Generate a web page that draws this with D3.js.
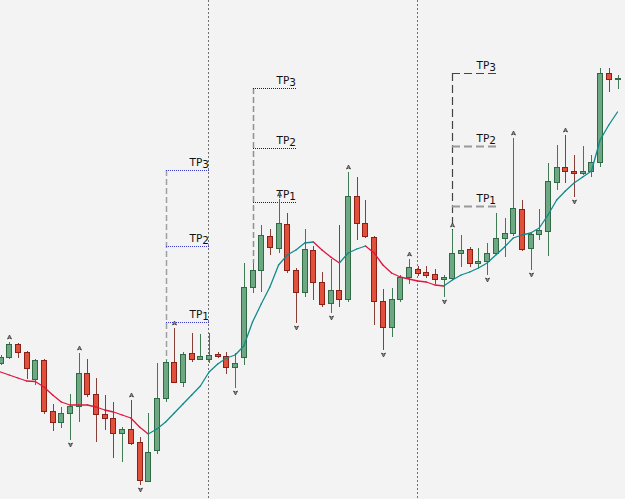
<!DOCTYPE html>
<html>
<head>
<meta charset="utf-8">
<script src="https://cdn.jsdelivr.net/npm/d3@7"></script>
<style>
html, body { margin: 0; padding: 0; background: #f3f3f3; }
svg { display: block; }
</style>
</head>
<body>
<div id="chart"></div>
<script>
// candle prices (price = 500 - pixel row)
var openP  = [137,143,156,148,121,140,89,78,87,94,127,106,86,82,67,71,58,19,50,102,
              138,118,147,141,141,146,144,133,143,213,230,264,252,276,230,208,250,218,197,210,
              201,304,277,263,199,173,201,223,231,228,226,221,222,247,251,237,239,247,262,267,
              291,252,266,269,318,333,329,327,329,338,427,421];
var highP  = [145,158,157,149,141,141,96,93,106,147,141,122,105,98,73,100,63,87,137,140,
              172,148,167,166,167,148,148,147,237,237,275,271,301,287,232,271,254,228,241,275,
              328,323,300,264,211,212,225,241,234,234,231,225,270,265,253,252,257,287,282,362,
              300,268,291,337,355,365,345,354,345,432,432,425];
var lowP   = [135,141,142,121,115,86,69,72,60,78,103,58,70,42,38,55,15,18,46,98,
              117,113,138,140,137,142,126,112,135,207,208,245,247,227,177,203,200,193,187,193,
              198,260,262,175,150,163,198,216,224,222,216,203,220,233,233,232,225,245,243,264,
              249,230,260,244,310,317,303,325,323,333,408,411];
var closeP = [143,156,148,132,140,89,78,87,94,127,106,86,82,67,71,57,20,48,102,138,
              118,146,141,144,145,144,133,137,213,230,265,253,277,230,208,251,218,196,210,201,
              304,277,264,199,173,201,223,233,227,225,221,223,247,250,237,239,247,262,267,292,
              251,266,270,319,333,329,327,329,338,427,421,422];

// moving average, one value per candle
var maP = [128,125,122,119,118.5,113,105,98,95,95,95,93,90,88,85,82,73,66,71,78,
           87,96,105,114,128,136,142,145,154,178,196,213,235,245,250,257,258,250,243,237,
           247,251,254,247,235,227,223,221,219,218,215,214,220,225,228,232,237,245,253,262,
           265,267,272,285,300,309,317,323,329,360,375,388];

// signal arrows
var upArrows   = [1, 9, 15, 20, 32, 40, 47, 52, 59, 65];
var downArrows = [8, 16, 27, 34, 38, 44, 51, 56, 61, 66];

// session separators
var sessionStarts = [24, 48];

// take-profit setups
var tpIndex = [19, 29, 52];
var tp1Level = [178, 298, 294];
var tp2Level = [254.5, 352, 354];
var tp3Level = [330, 412, 427];
var tpNames = ["1", "2", "3"];

var width = 625, height = 499;

var svg = d3.select("#chart")
    .append("svg")
    .attr("width", width)
    .attr("height", height);

svg.append("rect")
    .attr("width", width)
    .attr("height", height)
    .attr("fill", "#f3f3f3");

var x = d3.scaleLinear()
    .domain([0, openP.length - 1])
    .range([0.5, 617.5]);

var y = d3.scaleLinear()
    .domain([0, 500])
    .range([500, 0]);

function px(i) { return Math.round(x(i)); }

var candles = openP.map(function(o, i) {
  return {i: i, o: o, h: highP[i], l: lowP[i], c: closeP[i], up: closeP[i] >= o};
});

// separators
svg.selectAll(".sep")
    .data(sessionStarts)
    .enter()
    .append("line")
    .attr("x1", function(d) { return px(d) - 0.5; })
    .attr("x2", function(d) { return px(d) - 0.5; })
    .attr("y1", 0)
    .attr("y2", height)
    .attr("stroke", "#707070")
    .attr("stroke-width", 1)
    .attr("stroke-dasharray", "2,2");

// take-profit guides
var tpStyle = [
  {vert: "#a0a0a0", vDash: "6,3", vW: 1.5, hor: ["#3a3ac8", "#3a3ac8", "#3a3ac8"], hDash: "1,1", hW: [1, 1, 1]},
  {vert: "#909090", vDash: "6,3", vW: 1.5, hor: ["#222222", "#222222", "#222222"], hDash: "1,1", hW: [1, 1, 1]},
  {vert: "#444444", vDash: "8,4", vW: 1.2, hor: ["#9a9a9a", "#9a9a9a", "#444444"], hDash: "8,4", hW: [2, 2, 1.2]}
];

var tpGroup = svg.append("g");
tpIndex.forEach(function(idx, k) {
  var st = tpStyle[k];
  var x0 = px(idx);
  var x1 = px(idx + 5);
  var levels = [tp1Level[k], tp2Level[k], tp3Level[k]];

  tpGroup.append("line")
      .attr("x1", x0 + 0.5).attr("x2", x0 + 0.5)
      .attr("y1", Math.round(y(tp3Level[k])))
      .attr("y2", Math.round(y(highP[idx])))
      .attr("stroke", st.vert)
      .attr("stroke-width", st.vW)
      .attr("stroke-dasharray", st.vDash);

  levels.forEach(function(lv, j) {
    var ly = Math.round(y(lv)) + 0.5;
    tpGroup.append("line")
        .attr("x1", x0).attr("x2", x1)
        .attr("y1", ly).attr("y2", ly)
        .attr("stroke", st.hor[j])
        .attr("stroke-width", st.hW[j])
        .attr("stroke-dasharray", st.hDash);

    var t = tpGroup.append("text")
        .attr("x", x1)
        .attr("y", ly - 5)
        .attr("text-anchor", "end")
        .attr("font-family", "DejaVu Sans, sans-serif")
        .attr("font-size", "10.5px")
        .attr("fill", "#111");
    t.append("tspan").text("TP");
    t.append("tspan").attr("dy", 2).text(tpNames[j]);
  });
});

// candles
var g = svg.append("g");

g.selectAll(".wick")
    .data(candles)
    .enter()
    .append("line")
    .attr("x1", function(d) { return px(d.i) + 0.5; })
    .attr("x2", function(d) { return px(d.i) + 0.5; })
    .attr("y1", function(d) { return Math.round(y(d.h)); })
    .attr("y2", function(d) { return Math.round(y(d.l)); })
    .attr("stroke", function(d) { return d.up ? "#3f7a55" : "#864038"; })
    .attr("stroke-width", 1);

g.selectAll(".body")
    .data(candles)
    .enter()
    .append("rect")
    .attr("x", function(d) { return px(d.i) - 2.5; })
    .attr("y", function(d) { return Math.round(y(Math.max(d.o, d.c))) + 0.5; })
    .attr("width", 5)
    .attr("height", function(d) { return Math.max(1, Math.round(Math.abs(y(d.o) - y(d.c)))); })
    .attr("fill", function(d) { return d.up ? "#6da883" : "#e0503a"; })
    .attr("stroke", function(d) { return d.up ? "#2f6a45" : "#8c1f16"; })
    .attr("stroke-width", 1);

// moving average, red while falling, teal while rising
for (var i = 1; i < maP.length; i++) {
  svg.append("line")
      .attr("x1", x(i - 1)).attr("y1", y(maP[i - 1]))
      .attr("x2", x(i)).attr("y2", y(maP[i]))
      .attr("stroke", maP[i] > maP[i - 1] ? "#138a8c" : "#e0163e")
      .attr("stroke-width", 1.3)
      .attr("stroke-linecap", "round");
}

// arrows
svg.selectAll(".upArrow")
    .data(upArrows)
    .enter()
    .append("path")
    .attr("transform", function(d) { return "translate(" + (px(d) + 0.5) + "," + (Math.round(y(highP[d])) - 5) + ")"; })
    .attr("d", "M-2,2L0,-2L2,2L0,1Z")
    .attr("fill", "#a0a0a0")
    .attr("stroke", "#333")
    .attr("stroke-width", 0.8);

svg.selectAll(".downArrow")
    .data(downArrows)
    .enter()
    .append("path")
    .attr("transform", function(d) { return "translate(" + (px(d) + 0.5) + "," + (Math.round(y(lowP[d])) + 5) + ")"; })
    .attr("d", "M-2,-2L0,2L2,-2L0,-1Z")
    .attr("fill", "#a0a0a0")
    .attr("stroke", "#333")
    .attr("stroke-width", 0.8);
</script>
</body>
</html>
